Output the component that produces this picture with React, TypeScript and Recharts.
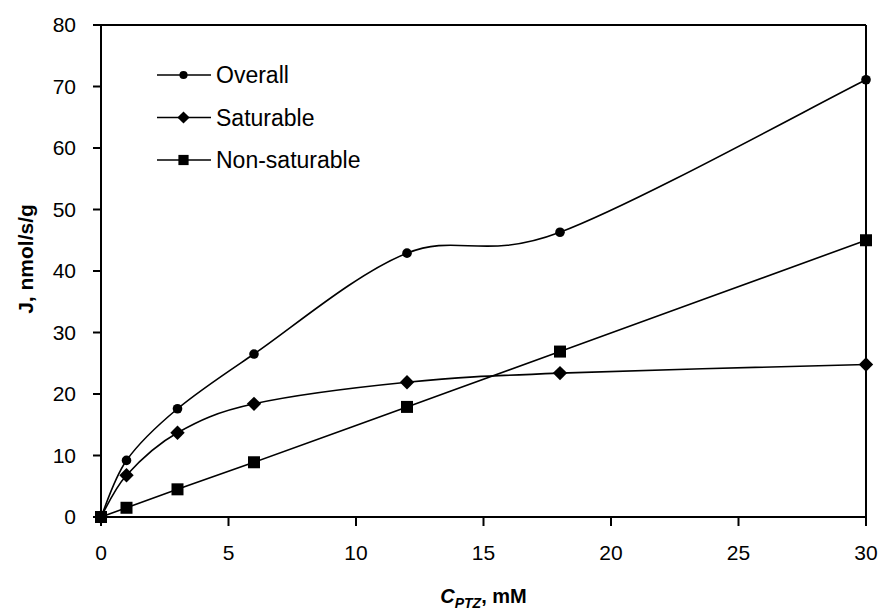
import React from 'react';
import { LineChart, Line, XAxis, YAxis, ReferenceLine, Legend } from 'recharts';

const concentrations = [0, 1, 3, 6, 12, 18, 30];
const overall = [0, 9.2, 17.6, 26.5, 42.9, 46.3, 71.1];
const saturable = [0, 6.8, 13.7, 18.4, 21.9, 23.4, 24.8];
const nonSaturable = [0, 1.5, 4.5, 8.9, 17.9, 26.9, 45.0];
const xTicks = [0, 5, 10, 15, 20, 25, 30];
const yTicks = [0, 10, 20, 30, 40, 50, 60, 70, 80];
const seriesNames = ['Overall', 'Saturable', 'Non-saturable'];
const seriesKeys = ['overall', 'saturable', 'nonSaturable'];
const markerShapes = ['circle', 'diamond', 'square'];

const data = concentrations.map((c, i) => ({
  c,
  overall: overall[i],
  saturable: saturable[i],
  nonSaturable: nonSaturable[i],
}));

const FONT = '"Liberation Sans", Arial, sans-serif';

// Spreadsheet-style smoothed line (uniform Catmull-Rom as cubic Bezier)
function smoothCurve(context: any) {
  let pts: number[][] = [];
  return {
    areaStart() {},
    areaEnd() {},
    lineStart() {
      pts = [];
    },
    point(x: number, y: number) {
      pts.push([+x, +y]);
    },
    lineEnd() {
      const n = pts.length;
      if (!n) return;
      context.moveTo(pts[0][0], pts[0][1]);
      for (let i = 0; i < n - 1; i++) {
        const p0 = pts[i - 1] || pts[i];
        const p1 = pts[i];
        const p2 = pts[i + 1];
        const p3 = pts[i + 2] || p2;
        context.bezierCurveTo(
          p1[0] + (p2[0] - p0[0]) / 6,
          p1[1] + (p2[1] - p0[1]) / 6,
          p2[0] - (p3[0] - p1[0]) / 6,
          p2[1] - (p3[1] - p1[1]) / 6,
          p2[0],
          p2[1]
        );
      }
    },
  };
}

function Marker({ cx, cy, shape, small }: { cx: number; cy: number; shape: string; small?: boolean }) {
  if (cx == null || cy == null) return null;
  const k = small ? 0.85 : 1;
  if (shape === 'circle') return <circle cx={cx} cy={cy} r={4.8 * k} fill="#000" />;
  if (shape === 'diamond') {
    const h = 7.2 * k;
    return <polygon points={`${cx},${cy - h} ${cx + h},${cy} ${cx},${cy + h} ${cx - h},${cy}`} fill="#000" />;
  }
  const s = 6 * k;
  return <rect x={cx - s} y={cy - s} width={2 * s} height={2 * s} fill="#000" />;
}

const makeDot = (shape: string) => (props: any) => (
  <Marker key={`${shape}-${props.index}`} cx={props.cx} cy={props.cy} shape={shape} />
);

const LegendContent = () => (
  <svg width={260} height={130} style={{ overflow: 'visible' }}>
    {seriesNames.map((name, i) => {
      const y = 20 + i * 42.5;
      return (
        <g key={name}>
          <line x1={7} x2={61} y1={y} y2={y} stroke="#000" strokeWidth={1.5} />
          <Marker cx={33.5} cy={y} shape={markerShapes[i]} small />
          <text x={66} y={y} dy="0.35em" fontFamily={FONT} fontSize={23} fill="#000">
            {name}
          </text>
        </g>
      );
    })}
  </svg>
);

const XTitle = (props: any) => {
  const vb = props.viewBox || {};
  const cx = vb.x + vb.width / 2;
  return (
    <text x={cx} y={603} textAnchor="middle" fontFamily={FONT} fontWeight="bold" fontSize={20} fill="#000">
      <tspan fontStyle="italic">C</tspan>
      <tspan fontStyle="italic" fontSize={14} dy={5}>PTZ</tspan>
      <tspan dy={-5}>, mM</tspan>
    </text>
  );
};

const YTitle = (props: any) => {
  const vb = props.viewBox || {};
  const cy = vb.y + vb.height / 2 - 12;
  return (
    <text
      x={25}
      y={cy}
      transform={`rotate(-90, 25, ${cy})`}
      textAnchor="middle"
      dominantBaseline="central"
      fontFamily={FONT}
      fontWeight="bold"
      fontSize={21}
      fill="#000"
    >
      J, nmol/s/g
    </text>
  );
};

export default function App() {
  const tickStyle = { fontFamily: FONT, fontSize: 21, fill: '#000' };
  return (
    <div style={{ position: 'absolute', left: 0, top: 0, width: 880, height: 614, background: '#fff' }}>
      <LineChart width={880} height={614} data={data} margin={{ top: 25, right: 14, left: 0, bottom: 0 }}>
        <XAxis
          dataKey="c"
          type="number"
          domain={[0, 30]}
          ticks={xTicks}
          tickSize={9}
          tickMargin={19}
          height={97}
          stroke="#000"
          strokeWidth={2}
          tick={tickStyle}
          label={{ content: XTitle }}
        />
        <YAxis
          type="number"
          domain={[0, 80]}
          ticks={yTicks}
          tickSize={8}
          tickMargin={17}
          width={101}
          stroke="#000"
          strokeWidth={2}
          tick={tickStyle}
          label={{ content: YTitle }}
        />
        <ReferenceLine x={30} stroke="#000" strokeWidth={2} ifOverflow="extendDomain" />
        <ReferenceLine y={80} stroke="#000" strokeWidth={2} ifOverflow="extendDomain" />
        {seriesKeys.map((key, i) => (
          <Line
            key={key}
            dataKey={key}
            name={seriesNames[i]}
            type={smoothCurve as any}
            stroke="#000"
            strokeWidth={1.6}
            dot={makeDot(markerShapes[i])}
            activeDot={false}
            isAnimationActive={false}
          />
        ))}
        <Legend
          layout="vertical"
          align="center"
          verticalAlign="middle"
          content={LegendContent}
          wrapperStyle={{ left: 150, top: 55, width: 260, height: 130 }}
        />
      </LineChart>
    </div>
  );
}
